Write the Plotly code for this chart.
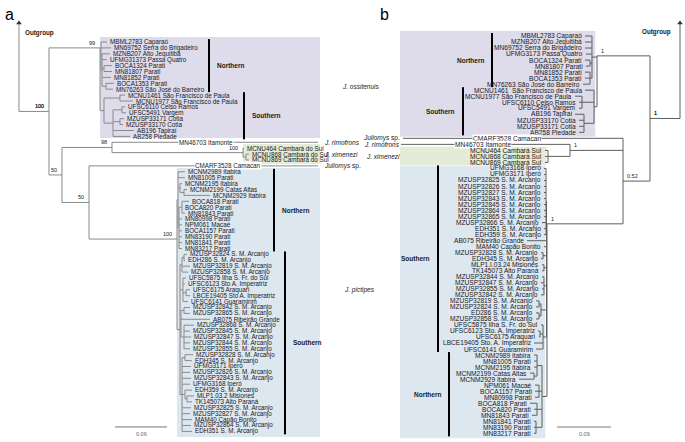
import plotly.graph_objects as go

# ---------------- DATA ----------------
def T(name, d):
    return {"name": name, "d": d}

def N(d, kids, sup=None, key=None):
    return {"d": d, "kids": kids, "sup": sup, "key": key}

# ---- Panel a : ML tree (depth from root, substitutions/site) ----
A_OSS_NORTH = N(0.0946, [
    T("MBML2783 Caparaó", 0.1015),
    T("MN69752 Serra do Brigadeiro", 0.1062),
    N(0.0958, [
        T("MZNB207 Alto Jequitibá", 0.1050),
        T("UFMG31373 Passa Quatro", 0.1015),
        N(0.0981, [T("BOCA1324 Parati", 0.1073), T("MN81807 Parati", 0.1073)]),
        T("MN81852 Parati", 0.1062),
        N(0.1004, [T("BOCA1353 Parati", 0.1096), T("MN76263 São José do Barreiro", 0.1085)]),
    ]),
])
A_OSS_SOUTH = N(0.0981, [
    N(0.1165, [T("MCNU1461 São Francisco de Paula", 0.1223), T("MCNU1977 São Francisco de Paula", 0.1315)]),
    N(0.1085, [
        N(0.1188, [T("UFSC6110 Celso Ramos", 0.1223), T("UFSC5491 Vargem", 0.1235)]),
        N(0.1165, [T("MZUSP33171 Cotia", 0.1212), T("MZUSP33170 Cotia", 0.1200)]),
        T("AB196 Tapiraí", 0.1327),
        T("AB258 Piedade", 0.1281),
    ]),
])
A_XIME = N(0.2585, [
    T("MCNU464 Cambará do Sul", 0.2596),
    N(0.2619, [T("MCNU868 Cambará do Sul", 0.2654), T("MCNU869 Cambará do Sul", 0.2654)]),
], "100")
A_PIC_NORTH = N(0.1835, [
    T("MCNM2989 Itabira", 0.1915),
    T("MN81005 Parati", 0.1915),
    N(0.1858, [T("MCNM2195 Itabira", 0.1880),
               N(0.1904, [T("MCNM2199 Catas Altas", 0.1938), T("MCNM2929 Itabira", 0.2204)])]),
    N(0.1846, [
        N(0.1881, [T("BOCA818 Parati", 0.1962), T("BOCA820 Parati", 0.1880), T("MN81843 Parati", 0.1915)]),
        T("MN80998 Parati", 0.1880),
        T("NPM061 Macaé", 0.1880),
        T("BOCA1157 Parati", 0.1880),
        T("MN83190 Parati", 0.1880),
        T("MN81841 Parati", 0.1880),
        T("MN83217 Parati", 0.1880),
    ]),
])
A_PIC_SOUTH = N(0.1858, [
    N(0.1881, [
        N(0.1904, [T("MZUSP32824 S. M. Arcanjo", 0.1938), T("EDH286 S. M. Arcanjo", 0.1915)]),
        T("MZUSP32819 S. M. Arcanjo", 0.1973),
        T("MZUSP32858 S. M. Arcanjo", 0.1950),
    ]),
    N(0.1892, [
        T("UFSC5875 Ilha S. Fr. do Sul", 0.1927),
        T("UFSC6123 Sto A. Imperatriz", 0.1915),
        N(0.1927, [T("UFSC6175 Araquari", 0.1973), T("LBCE19405 Sto A. Imperatriz", 0.1973)]),
        T("UFSC6141 Guaramirim", 0.1950),
    ]),
    N(0.1869, [
        N(0.1904, [T("MZUSP32842 S. M. Arcanjo", 0.1973), T("MZUSP32865 S. M. Arcanjo", 0.1973)]),
        T("AB075 Ribeirão Grande", 0.2204),
        N(0.1904, [T("MZUSP32868 S. M. Arcanjo", 0.2019), T("MZUSP32845 S. M. Arcanjo", 0.1973),
                   T("MZUSP32847 S. M. Arcanjo", 0.1985), T("MZUSP32844 S. M. Arcanjo", 0.1973),
                   T("MZUSP32855 S. M. Arcanjo", 0.1973)]),
    ]),
    N(0.1881, [
        N(0.1915, [T("MZUSP32828 S. M. Arcanjo", 0.2008), T("EDH345 S. M. Arcanjo", 0.1996)]),
        T("UFMG3171 Iperó", 0.1985),
        T("MZUSP32826 S. M. Arcanjo", 0.1973),
        T("MZUSP32843 S. M. Arcanjo", 0.1985),
        T("UFMG3168 Iperó", 0.1973),
        N(0.1915, [T("EDH359 S. M. Arcanjo", 0.1996),
                   N(0.1938, [T("MLP1.03.2 Misiones", 0.2019), T("TK145073 Alto Paraná", 0.1996)])]),
        T("MZUSP32825 S. M. Arcanjo", 0.1985),
        T("MZUSP32827 S. M. Arcanjo", 0.1973),
        T("MAM40 Capão Bonito", 0.1996),
        T("MZUSP32864 S. M. Arcanjo", 0.1985),
        T("EDH351 S. M. Arcanjo", 0.1996),
    ]),
])
A_OSS = N(0.0935, [A_OSS_NORTH, A_OSS_SOUTH], "99", key="oss")
A_PIC = N(0.1823, [A_PIC_NORTH, A_PIC_SOUTH], "100", key="pic")
A_N98 = N(0.1073, [T("MN46703 Itamonte", 0.345), A_XIME], "98")
A_N50B = N(0.0808, [T("CMARF3528 Camacan", 0.345), A_PIC], "50")
A_N50 = N(0.0496, [A_N98, A_N50B], "50")
A_INGROUP = N(0.0346, [A_OSS, A_N50], "100")

# ---- Panel b : Bayesian tree (depth from root) ----
B_OSS_NORTH = N(0.1467, [
    T("MBML2783 Caparaó", 0.1583),
    T("MZNB207 Alto Jequitibá", 0.1583),
    T("MN69752 Serra do Brigadeiro", 0.1583),
    T("UFMG3173 Passa Quatro", 0.1567),
    N(0.1500, [T("BOCA1324 Parati", 0.1583), T("MN81807 Parati", 0.1567)]),
    N(0.1500, [T("MN81852 Parati", 0.1583), T("BOCA1353 Parati", 0.1583),
               T("MN76263 São José do Barreiro", 0.1617)]),
])
B_OSS_SOUTH = N(0.1433, [
    T("MCNU1461  São Francisco de Paula", 0.1583),
    N(0.1633, [T("MCNU1977 São Francisco de Paula", 0.1750), T("UFSC6110 Celso Ramos", 0.1683),
               T("UFSC5491 Vargem", 0.1683)]),
    N(0.1600, [T("AB196 Tapiraí", 0.1750), T("MZUSP33170 Cotia", 0.1683),
               T("MZUSP33171 Cotia", 0.1683), T("AB258 Piedade", 0.1683)]),
])
B_XIME = N(0.2200, [T("MCNU464 Cambará Sul", 0.2250), T("MCNU868 Cambará Sul", 0.2250),
                    T("MCNU869 Cambará Sul", 0.2250)])
B_PIC_SOUTH = N(0.2225, [
    N(0.2233, [T("UFMG3168 Iperó", 0.2267), T("UFMG3171 Iperó", 0.2267),
               T("MZUSP32825 S. M. Arcanjo", 0.2267), T("MZUSP32826 S. M. Arcanjo", 0.2267),
               T("MZUSP32827 S. M. Arcanjo", 0.2267), T("MZUSP32843 S. M. Arcanjo", 0.2267),
               T("MZUSP32845 S. M. Arcanjo", 0.2267), T("MZUSP32864 S. M. Arcanjo", 0.2267),
               T("MZUSP32865 S. M. Arcanjo", 0.2267), T("MZUSP32866 S. M. Arcanjo", 0.2300),
               T("EDH351 S. M. Arcanjo", 0.2267), T("EDH359 S. M. Arcanjo", 0.2267)]),
    T("AB075 Ribeirão Grande", 0.2550),
    T("MAM40 Capão Bonito", 0.2267),
    N(0.2283, [T("MZUSP32828 S. M. Arcanjo", 0.2317), T("EDH345 S. M. Arcanjo", 0.2317)]),
    N(0.2267, [T("MLP1.I.03.24 Misiones", 0.2300), T("TK145073 Alto Paraná", 0.2300)]),
    N(0.2267, [T("MZUSP32844 S. M. Arcanjo", 0.2300), T("MZUSP32847 S. M. Arcanjo", 0.2317),
               T("MZUSP32855 S. M. Arcanjo", 0.2300), T("MZUSP32842 S. M. Arcanjo", 0.2317)]),
    N(0.2317, [N(0.2350, [T("MZUSP32819 S. M. Arcanjo", 0.2400), T("MZUSP32824 S. M. Arcanjo", 0.2400)]),
               N(0.2350, [T("ED286 S. M. Arcanjo", 0.2400), T("MZUSP32858 S. M. Arcanjo", 0.2400)])]),
    N(0.2283, [T("UFSC5875 Ilha S. Fr. do Sul", 0.2317),
               N(0.2333, [T("UFSC6123 Sto. A. Imperatriz", 0.2367), T("UFSC6175 Araquari", 0.2350)]),
               T("LBCE19405 Sto. A. Imperatriz", 0.2433), T("UFSC6141 Guaramirim", 0.2400)]),
])
B_PIC_NORTH = N(0.2300, [
    N(0.2383, [T("MCNM2989 Itabira", 0.2433), T("MN81005 Parati", 0.2433), T("MCNM2195 Itabira", 0.2433),
               N(0.2433, [T("MCNM2199 Catas Altas", 0.2500), T("MCNM2929 Itabira", 0.2683)])]),
    N(0.2350, [T("NPM061 Macaé", 0.2417), T("BOCA1157 Parati", 0.2417), T("MN80998 Parati", 0.2417)]),
    N(0.2383, [T("BOCA818 Parati", 0.2500), T("BOCA820 Parati", 0.2433), T("MN81843 Parati", 0.2467)]),
    N(0.2400, [T("MN81841 Parati", 0.2433), T("MN83190 Parati", 0.2433), T("MN83217 Parati", 0.2433)]),
])
B_OSS = N(0.1383, [B_OSS_NORTH, B_OSS_SOUTH], "1", key="oss")
B_PIC = N(0.2217, [B_PIC_SOUTH, B_PIC_NORTH], "1", key="pic")
B_C = N(0.1833, [T("MN46703 Itamonte", 0.4650), B_XIME], "1")
B_NB = N(0.0950, [T("CMARF3528 Camacan", 0.4617), B_C, B_PIC], "0.52")
B_INGROUP = N(0.0500, [B_OSS, B_NB], "1")

# scale bars (length in substitutions/site)
A_SCALE = 0.06
B_SCALE = 0.09

# ---------------- LAYOUT / STYLE ----------------
A_NODE_Y = {"oss": 1.0, "pic": 33.4}
B_NODE_Y = {"oss": 3.3, "pic": 31.2}
A_LONG_LABEL_X = {"MN46703 Itamonte": 0.2158, "CMARF3528 Camacan": 0.2411}
B_LONG_LABEL_X = {"MN46703 Itamonte": 0.3283, "CMARF3528 Camacan": 0.2883}

FONT = "Arial, Liberation Sans, sans-serif"
PURPLE = "#dedbeb"
GREEN = "#e4ebd6"
BLUE = "#dde7f0"
A_LINE = "#8a8a8a"
B_LINE = "#5e5e5e"
TXT = "#1a1a1a"


def layout_tree(node, counter, yover):
    if "name" in node:
        node["y"] = counter[0]
        counter[0] += 1
        return
    for k in node["kids"]:
        layout_tree(k, counter, yover)
    ys = [k["y"] for k in node["kids"]]
    node["y"] = yover.get(node["key"], (ys[0] + ys[-1]) / 2)


def collect(node, xs, ys, tips, nodes):
    if "name" in node:
        tips.append(node)
        return
    nodes.append(node)
    ally = [k["y"] for k in node["kids"]] + [node["y"]]
    xs += [node["d"], node["d"], None]
    ys += [min(ally), max(ally), None]
    for k in node["kids"]:
        xs += [node["d"], k["d"], None]
        ys += [k["y"], k["y"], None]
        collect(k, xs, ys, tips, nodes)


def tip_range(node):
    if "name" in node:
        return node["y"], node["y"]
    r = [tip_range(k) for k in node["kids"]]
    return min(a for a, b in r), max(b for a, b in r)


layout_tree(A_INGROUP, [0], A_NODE_Y)
layout_tree(B_INGROUP, [0], B_NODE_Y)

fig = go.Figure()
ann = []
shapes = []

# ---------- boxes ----------
A_EDGE = 0.3473
B_EDGE = 0.4667
for clade, col, pt, pb in [(A_OSS, PURPLE, 0.85, 0.27), (A_XIME, GREEN, 0.71, 0.68), (A_PIC, BLUE, 0.64, 0.95)]:
    lo, hi = tip_range(clade)
    shapes.append(dict(type="rect", xref="x", yref="y", x0=clade["d"], x1=A_EDGE,
                       y0=lo - pt, y1=hi + pb, fillcolor=col, line_width=0, layer="below"))
for clade, col, pt, pb in [(B_OSS, PURPLE, 0.83, 0.75), (B_XIME, GREEN, 0.6, 0.45), (B_PIC, BLUE, 0.45, 0.8)]:
    lo, hi = tip_range(clade)
    shapes.append(dict(type="rect", xref="x2", yref="y2", x0=clade["d"] + 0.003, x1=B_EDGE,
                       y0=lo - pt, y1=hi + pb, fillcolor=col, line_width=0, layer="below"))


# ---------- trees ----------
def draw_tree(root_node, xa, ya, color, long_x, tip_side, tip_fs, sup_side, arrow_top):
    xs, ys, tips, nodes = [], [], [], []
    collect(root_node, xs, ys, tips, nodes)
    xs += [0, root_node["d"], None, 0, 0, None]
    ys += [root_node["y"], root_node["y"], None, root_node["y"], arrow_top, None]
    fig.add_trace(go.Scatter(x=xs, y=ys, mode="lines", xaxis=xa, yaxis=ya,
                             line=dict(color=color, width=1), hoverinfo="skip", showlegend=False))
    fig.add_trace(go.Scatter(x=[0], y=[arrow_top], mode="markers", xaxis=xa, yaxis=ya,
                             marker=dict(symbol="triangle-up", size=5, color="#333"),
                             hoverinfo="skip", showlegend=False))
    for t in tips:
        if t["name"] in long_x:
            ann.append(dict(x=long_x[t["name"]], y=t["y"], xref=xa, yref=ya, text=t["name"],
                            showarrow=False, xanchor="center", yanchor="middle", bgcolor="white",
                            borderpad=0, font=dict(family=FONT, size=tip_fs, color=TXT)))
        else:
            ann.append(dict(x=t["d"], y=t["y"], xref=xa, yref=ya, text=t["name"], showarrow=False,
                            xanchor=tip_side, yanchor="middle", xshift=1 if tip_side == "left" else -1,
                            font=dict(family=FONT, size=tip_fs, color=TXT)))
    for n in nodes + [root_node]:
        if n["sup"]:
            ann.append(dict(x=n["d"], y=n["y"], xref=xa, yref=ya, text=n["sup"], showarrow=False,
                            xanchor=sup_side, yanchor="bottom",
                            xshift=-3 if sup_side == "right" else 2, yshift=0,
                            font=dict(family=FONT, size=5.5, color=TXT)))


draw_tree(A_INGROUP, "x", "y", A_LINE, A_LONG_LABEL_X, "left", 6.3, "right", -3.2)
draw_tree(B_INGROUP, "x2", "y2", B_LINE, B_LONG_LABEL_X, "right", 6.6, "left", -2.16)

# ---------- clade bars + names ----------
A_BARS = [("Northern", A_OSS_NORTH, 0.2192), ("Southern", A_OSS_SOUTH, 0.2596),
          ("Northern", A_PIC_NORTH, 0.2942), ("Southern", A_PIC_SOUTH, 0.3069)]
B_BARS = [("Northern", B_OSS_NORTH, 0.3133), ("Southern", B_OSS_SOUTH, 0.3617),
          ("Southern", B_PIC_SOUTH, 0.4033), ("Northern", B_PIC_NORTH, 0.3850)]
for lab, cl, xb in A_BARS:
    lo, hi = tip_range(cl)
    fig.add_trace(go.Scatter(x=[xb, xb], y=[lo - 0.5, hi + 0.5], mode="lines", xaxis="x", yaxis="y",
                             line=dict(color="black", width=2), hoverinfo="skip", showlegend=False))
    ann.append(dict(x=xb, y=(lo + hi) / 2, xref="x", yref="y", text="<b>%s</b>" % lab, showarrow=False,
                    xanchor="left", yanchor="middle", xshift=6,
                    font=dict(family=FONT, size=6.5, color=TXT)))
for lab, cl, xb in B_BARS:
    lo, hi = tip_range(cl)
    fig.add_trace(go.Scatter(x=[xb, xb], y=[lo - 0.5, hi + 0.5], mode="lines", xaxis="x2", yaxis="y2",
                             line=dict(color="black", width=2), hoverinfo="skip", showlegend=False))
    ann.append(dict(x=xb, y=(lo + hi) / 2, xref="x2", yref="y2", text="<b>%s</b>" % lab, showarrow=False,
                    xanchor="right", yanchor="middle", xshift=-6,
                    font=dict(family=FONT, size=6.5, color=TXT)))

# ---------- species names ----------
SP_FONT = dict(family=FONT, size=6.5, color=TXT)
A_SPECIES = [("<i>J. rimofrons</i>", 17), ("<i>J. ximenezi</i>", 19), ("<i>Juliomys</i> sp.", 21)]
B_SPECIES = [("<i>Juliomys</i> sp.", 17), ("<i>J. rimofrons</i>", 18), ("<i>J. ximenezi</i>", 20)]
for txt, yy in A_SPECIES:
    ann.append(dict(x=0.3496, y=yy, xref="x", yref="y", text=txt, showarrow=False, xanchor="left",
                    yanchor="middle", font=SP_FONT))
for txt, yy in B_SPECIES:
    ann.append(dict(x=0.4633, y=yy, xref="x2", yref="y2", text=txt, showarrow=False, xanchor="right",
                    yanchor="middle", font=SP_FONT))
ann.append(dict(x=361 / 685, y=1 - 87 / 442, xref="paper", yref="paper", text="<i>J. ossitenuis</i>",
                showarrow=False, xanchor="center", yanchor="middle", font=SP_FONT))
ann.append(dict(x=359 / 685, y=1 - 290 / 442, xref="paper", yref="paper", text="<i>J. pictipes</i>",
                showarrow=False, xanchor="center", yanchor="middle", font=SP_FONT))

# ---------- outgroup labels ----------
ann.append(dict(x=0.0046, y=-1.5, xref="x", yref="y", text="<b>Outgroup</b>", showarrow=False,
                xanchor="left", yanchor="middle", font=dict(family=FONT, size=6.3, color=TXT)))
ann.append(dict(x=0.0117, y=-0.66, xref="x2", yref="y2", text="<b>Outgroup</b>", showarrow=False,
                xanchor="right", yanchor="middle", font=dict(family=FONT, size=6.3, color=TXT)))

# ---------- panel letters ----------
ann.append(dict(x=9 / 685, y=1 - 15 / 442, xref="paper", yref="paper", text="a", showarrow=False,
                xanchor="center", yanchor="middle", font=dict(family=FONT, size=16, color="black")))
ann.append(dict(x=384 / 685, y=1 - 15 / 442, xref="paper", yref="paper", text="b", showarrow=False,
                xanchor="center", yanchor="middle", font=dict(family=FONT, size=16, color="black")))

# ---------- scale bars ----------
A_SB_X, A_SB_Y = 0.1108, 65.25
B_SB_X, B_SB_Y = 0.115, 64.95
fig.add_trace(go.Scatter(x=[A_SB_X, A_SB_X + A_SCALE], y=[A_SB_Y, A_SB_Y], mode="lines", xaxis="x",
                         yaxis="y", line=dict(color="#777", width=1), hoverinfo="skip", showlegend=False))
fig.add_trace(go.Scatter(x=[B_SB_X, B_SB_X + B_SCALE], y=[B_SB_Y, B_SB_Y], mode="lines", xaxis="x2",
                         yaxis="y2", line=dict(color="#777", width=1), hoverinfo="skip", showlegend=False))
ann.append(dict(x=A_SB_X + A_SCALE / 2, y=A_SB_Y, xref="x", yref="y", text="%.2f" % A_SCALE,
                showarrow=False, yanchor="top", yshift=-2, font=dict(family=FONT, size=5.5, color="#666")))
ann.append(dict(x=B_SB_X + B_SCALE / 2, y=B_SB_Y, xref="x2", yref="y2", text="%.2f" % B_SCALE,
                showarrow=False, yanchor="top", yshift=-2, font=dict(family=FONT, size=5.5, color="#666")))

ax_common = dict(visible=False, showgrid=False, zeroline=False, fixedrange=True)
fig.update_layout(
    width=685, height=442, margin=dict(l=0, r=0, t=0, b=0),
    paper_bgcolor="white", plot_bgcolor="white", showlegend=False,
    xaxis=dict(range=[-0.0219, 0.7684], domain=[0, 1], **ax_common),
    yaxis=dict(range=[67.8, -7.119], domain=[0, 1], **ax_common),
    xaxis2=dict(range=[1.1333, -0.00833], overlaying="x", **ax_common),
    yaxis2=dict(range=[67.44, -5.98], overlaying="y", **ax_common),
    annotations=ann, shapes=shapes,
)
fig.write_html("out.html", config={"staticPlot": True},
               post_script="document.body.style.margin='0';document.body.style.padding='0';")
